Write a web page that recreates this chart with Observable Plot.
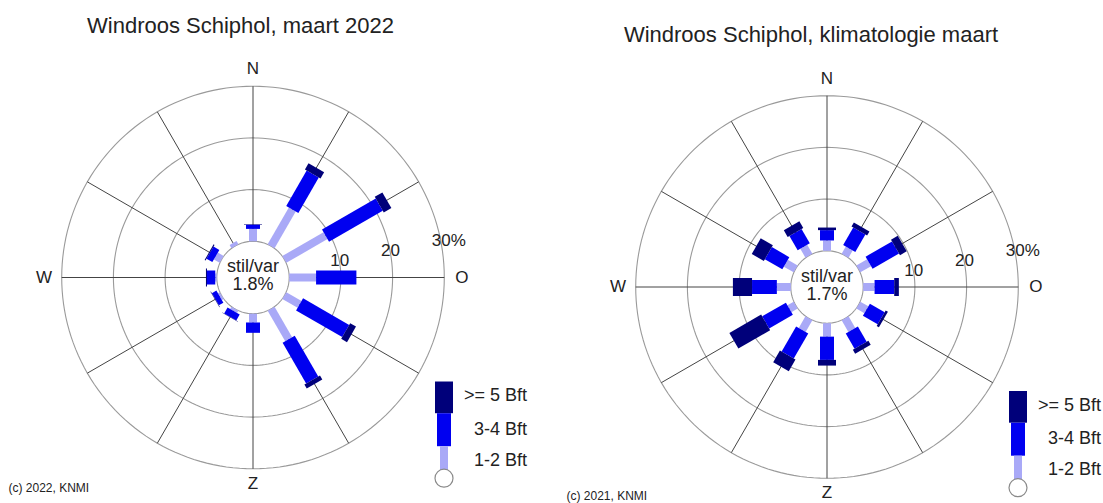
<!DOCTYPE html>
<html><head><meta charset="utf-8">
<script src="https://cdn.jsdelivr.net/npm/d3@7"></script>
<script src="https://cdn.jsdelivr.net/npm/@observablehq/plot@0.6"></script>
<style>
html,body{margin:0;padding:0;background:#fff;}
#chart{position:relative;width:1103px;height:503px;overflow:hidden;background:#fff;}
#chart svg{position:absolute;top:0;}
</style></head><body><div id="chart"></div>
<script>
// ---- data ----
const directions = [0, 30, 60, 90, 120, 150, 180, 210, 240, 270, 300, 330];
const classLabels = [">= 5 Bft", "3-4 Bft", "1-2 Bft"];
const ringValues = [10, 20, 30];
const ringLabels = ["10", "20", "30%"];
const compassNames = ["N", "O", "Z", "W"];
const compassAngles = [0, 90, 180, 270];

// Schiphol, maart 2022 (% of time per sector)
const light2022 = [2.4, 8.2, 9.2, 5.2, 3.4, 6.8, 1.7, 0.5, 0.4, 0.3, 1.3, 0.7];
const mid2022   = [0.8, 7.9, 12.0, 7.8, 10.3, 9.1, 2.0, 1.3, 1.0, 1.6, 1.3, 0.0];
const high2022  = [0.1, 1.4, 1.7, 0.0, 1.3, 0.9, 0.0, 0.1, 0.1, 0.2, 0.2, 0.0];
const calm2022 = 1.8;

// Schiphol, klimatologie maart
const lightClim = [2.0, 1.6, 2.4, 2.2, 1.8, 2.6, 2.6, 2.6, 1.4, 2.7, 2.2, 2.0];
const midClim   = [2.0, 3.9, 5.9, 3.8, 3.3, 3.4, 4.5, 5.6, 5.3, 4.8, 3.9, 3.2];
const highClim  = [0.5, 0.9, 1.5, 0.9, 0.5, 0.9, 1.1, 2.6, 7.1, 3.7, 2.7, 1.5];
const calmClim = 1.7;

// ---- styling / layout ----
const K = 5.17;      // px per percent
const R0 = 7;        // radius of "stil/var" circle, in percent units
const colLight = "#a9a9f7", colMid = "#0000f0", colHigh = "#00007a";
const wLight = 8, wMid = 14, wHigh = 18;
const FONT = "'Liberation Sans', Arial, Helvetica, sans-serif";
const rad = a => a * Math.PI / 180;
const px = r => r / K;

function rose(cfg) {
  const {width, height, cx, cy, light, mid, high, calm} = cfg;
  const segs = directions.map((dir, i) => ({
    dir,
    a: 0, b: light[i],
    c: light[i] + mid[i],
    d: light[i] + mid[i] + high[i]
  }));
  const X = (dir, r) => (R0 + r) * Math.sin(rad(dir));
  const Y = (dir, r) => (R0 + r) * Math.cos(rad(dir));
  const circlePts = d3.range(0, 361, 2);
  const rings = ringValues.flatMap(v => circlePts.map(a => ({v, a})));
  const legend = [
    {label: classLabels[0], color: colHigh, w: wHigh, y1: 104, y2: 135.7, ty: 118},
    {label: classLabels[1], color: colMid, w: wMid, y1: 135.7, y2: 168.7, ty: 151.5},
    {label: classLabels[2], color: colLight, w: wLight, y1: 168.7, y2: 193.2, ty: 182.5}
  ];
  const legX = px(191), legLabX = px(274);
  const txt = {fill: "#222", fontFamily: FONT};
  const compassR = [33.4, 33.4, 32.8, 33.4];

  return Plot.plot({
    width, height, margin: 0,
    x: {domain: [-cx / K, (width - cx) / K], axis: null},
    y: {domain: [-(height - cy) / K, cy / K], axis: null},
    style: {fontFamily: FONT, background: "transparent", overflow: "visible"},
    marks: [
      // rings 10/20/30 %
      Plot.line(rings, {x: d => X(d.a, d.v), y: d => Y(d.a, d.v), z: "v", stroke: "#9a9a9a", strokeWidth: 1.1}),
      // spokes
      Plot.link(directions, {x1: d => X(d, 0), y1: d => Y(d, 0), x2: d => X(d, 30), y2: d => Y(d, 30), stroke: "#444", strokeWidth: 1}),
      // stil/var circle
      Plot.line(circlePts, {x: a => X(a, 0), y: a => Y(a, 0), fill: "white", stroke: "#9a9a9a", strokeWidth: 1.1}),
      // bars
      Plot.link(segs.filter(s => s.b > s.a), {x1: s => X(s.dir, s.a), y1: s => Y(s.dir, s.a), x2: s => X(s.dir, s.b), y2: s => Y(s.dir, s.b), stroke: colLight, strokeWidth: wLight, strokeLinecap: "butt"}),
      Plot.link(segs.filter(s => s.c > s.b), {x1: s => X(s.dir, s.b), y1: s => Y(s.dir, s.b), x2: s => X(s.dir, s.c), y2: s => Y(s.dir, s.c), stroke: colMid, strokeWidth: wMid, strokeLinecap: "butt"}),
      Plot.link(segs.filter(s => s.d > s.c), {x1: s => X(s.dir, s.c), y1: s => Y(s.dir, s.c), x2: s => X(s.dir, s.d), y2: s => Y(s.dir, s.d), stroke: colHigh, strokeWidth: wHigh, strokeLinecap: "butt"}),
      // compass labels
      Plot.text(compassNames, {x: (d, i) => X(compassAngles[i], compassR[i]), y: (d, i) => Y(compassAngles[i], compassR[i]), text: d => d, fontSize: 17, ...txt}),
      // ring labels
      Plot.text(ringLabels, {x: (d, i) => X(79, ringValues[i]), y: (d, i) => Y(79, ringValues[i]), text: d => d, fontSize: 17, textAnchor: "start", dx: -9, ...txt}),
      // centre text
      Plot.text(["stil/var", `${calm.toFixed(1)}%`], {x: () => 0, y: (d, i) => i === 0 ? px(11) : px(-7), text: d => d, fontSize: 18, ...txt}),
      // title
      Plot.text([cfg.title], {x: () => px(cfg.titleDx), y: () => px(252), text: d => d, fontSize: 22, ...txt}),
      // caption
      Plot.text([cfg.caption], {x: () => px(cfg.capX), y: () => px(-cfg.capY), text: d => d, fontSize: 12, textAnchor: "start", ...txt}),
      // legend
      Plot.link(legend, {x1: () => legX, x2: () => legX, y1: d => px(-d.y1), y2: d => px(-d.y2), stroke: d => d.color, strokeWidth: d => d.w, strokeLinecap: "butt"}),
      Plot.dot([0], {x: () => legX, y: () => px(-200.7), r: 9, fill: "white", stroke: "#8a8a8a", strokeWidth: 1.2}),
      Plot.text(legend, {x: () => legLabX, y: d => px(-d.ty), text: "label", textAnchor: "end", fontSize: 18, ...txt})
    ]
  });
}

const chart = document.getElementById("chart");
const left = rose({
  width: 551, height: 503, cx: 252.5, cy: 277,
  light: light2022, mid: mid2022, high: high2022, calm: calm2022,
  title: "Windroos Schiphol, maart 2022", titleDx: -12.5,
  caption: "(c) 2022, KNMI", capX: -244.5, capY: 211
});
left.style.left = "0px";
const right = rose({
  width: 552, height: 503, cx: 275.5, cy: 286.5,
  light: lightClim, mid: midClim, high: highClim, calm: calmClim,
  title: "Windroos Schiphol, klimatologie maart", titleDx: -16,
  caption: "(c) 2021, KNMI", capX: -260.5, capY: 209.5
});
right.style.left = "551px";
chart.appendChild(left);
chart.appendChild(right);
</script></body></html>
